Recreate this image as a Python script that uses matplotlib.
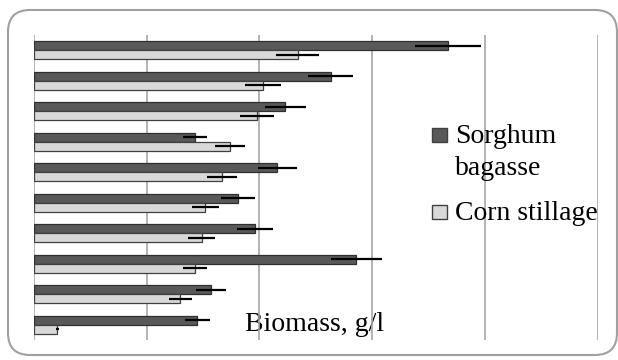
import matplotlib
matplotlib.use('Agg')
import matplotlib.pyplot as plt
import numpy as np
from matplotlib.patches import FancyBboxPatch, Rectangle

# Biomass (g/l) per sample, top to bottom
sorghum = [3.67, 2.63, 2.23, 1.43, 2.16, 1.81, 1.96, 2.86, 1.57, 1.45]
sorghum_err = [0.29, 0.20, 0.18, 0.11, 0.17, 0.15, 0.16, 0.23, 0.13, 0.11]
corn = [2.34, 2.03, 1.98, 1.74, 1.67, 1.52, 1.49, 1.43, 1.30, 0.21]
corn_err = [0.19, 0.16, 0.15, 0.13, 0.13, 0.12, 0.12, 0.11, 0.10, 0.01]
series_names = ['Sorghum\nbagasse', 'Corn stillage']

dark = '#595959'
light = '#d9d9d9'
serif = ['Liberation Serif', 'DejaVu Serif']
W, H = 618, 360

fig = plt.figure(figsize=(W / 100, H / 100), dpi=100)
ax = fig.add_axes([0.0545, 0.0556, 0.9131, 0.8472])

y = np.arange(len(sorghum))
h = 0.29
err_style = dict(ecolor='black', elinewidth=1.6, capsize=0)
ax.barh(y - h / 2, sorghum, height=h, color=dark, edgecolor='#303030',
        linewidth=0.9, xerr=sorghum_err, error_kw=err_style, zorder=3)
ax.barh(y + h / 2, corn, height=h, color=light, edgecolor='#404040',
        linewidth=0.9, xerr=corn_err, error_kw=err_style, zorder=3)

ax.set_xlim(0, 5)
ax.set_ylim(len(sorghum) - 0.5, -0.5)
ax.set_xticks(range(6))
ax.set_xticklabels([])
ax.set_yticks([])
ax.tick_params(length=0)
ax.grid(axis='x', color='#a6a6a6', linewidth=1.2, zorder=0)
for s in ax.spines.values():
    s.set_visible(False)

ax.text(0.375, 0.03, 'Biomass, g/l', transform=ax.transAxes, fontsize=20,
        family=serif, va='baseline', ha='left', zorder=1)

# legend drawn by hand so the swatch sits beside the first line
for name, color, base in [(series_names[0], dark, 143), (series_names[1], light, 220)]:
    fig.patches.append(Rectangle((432 / W, 1 - (base - 1) / H), 15 / W, 14 / H,
                                 transform=fig.transFigure, facecolor=color,
                                 edgecolor='#404040', linewidth=1))
    for k, line in enumerate(name.split('\n')):
        fig.text(455 / W, 1 - (base + 32 * k) / H, line, fontsize=20, family=serif,
                 va='baseline', ha='left')

# rounded outer frame
frame = FancyBboxPatch((0.08, 0.05), 6.09, 3.45, boxstyle='round,pad=0,rounding_size=0.22',
                       transform=fig.dpi_scale_trans, facecolor='none',
                       edgecolor='#a0a0a0', linewidth=1.5)
fig.patches.append(frame)

fig.savefig('out.png', dpi=100)
